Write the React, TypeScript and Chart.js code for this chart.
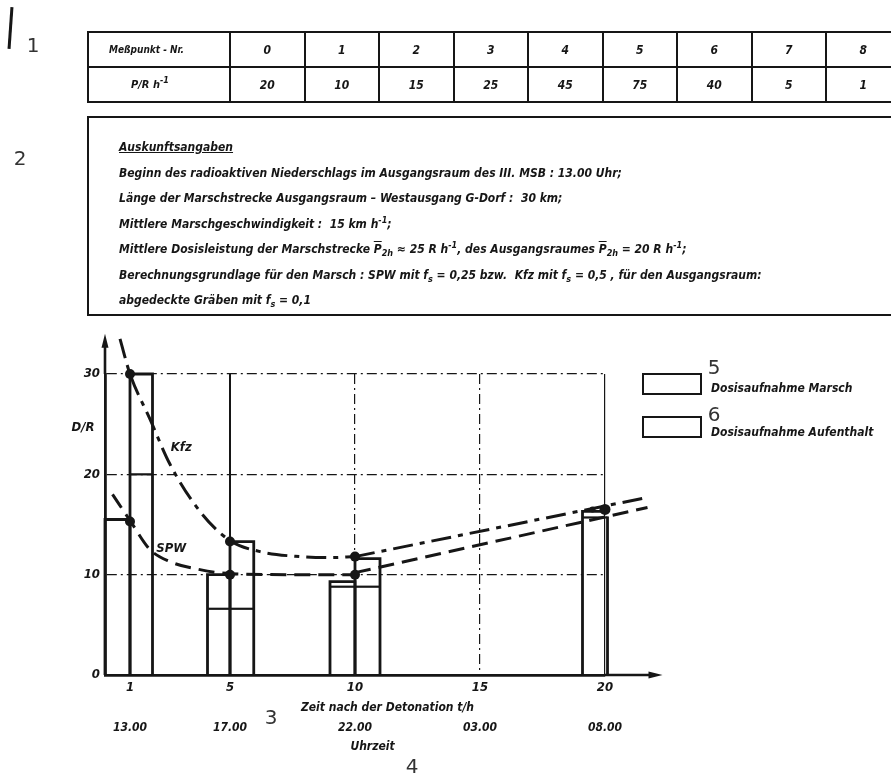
import React, { useEffect, useRef } from "react";
import { Chart, registerables } from "chart.js";

Chart.register(...registerables);

// ---------------- data ----------------
const pointNumbers = ["0", "1", "2", "3", "4", "5", "6", "7", "8"];
const doseRateValues = ["20", "10", "15", "25", "45", "75", "40", "5", "1"];

const xTickValues = [1, 5, 10, 15, 20];
const clockTimes = ["13.00", "17.00", "22.00", "03.00", "08.00"];
const yTickValues = [0, 10, 20, 30];

// Kfz (dash-dot) curve and its return leg
const kfzHours = [0.6, 1, 1.8, 2.6, 3.8, 5, 6.2, 7.8, 9, 10];
const kfzDose = [33.5, 30, 25.5, 21, 16.3, 13.4, 12.3, 11.8, 11.7, 11.8];
const kfzReturnHours = [10, 21.7];
const kfzReturnDose = [11.8, 17.7];

// SPW (dashed) curve and its return leg
const spwHours = [0.3, 1, 1.8, 2.6, 3.8, 5, 7.5, 10];
const spwDose = [18, 15.4, 12.5, 11.3, 10.5, 10.1, 10, 10];
const spwReturnHours = [10, 21.7];
const spwReturnDose = [10.2, 16.7];

// marked points
const markHours = [1, 1, 5, 5, 10, 10, 20, 19.5];
const markDose = [30, 15.3, 13.3, 10, 11.8, 10, 16.5, 16.5];
const markSize = [5, 5, 5, 5, 5, 5, 5.5, 3];

// dose bars (outlined rectangles)
const barFrom = [0, 1, 4.1, 5, 9, 10, 19.1, 20.1];
const barTo = [1, 1.9, 5, 5.95, 10, 11, 20.1, 20.95];
const barTotal = [15.5, 30, 10, 13.3, 9.3, 11.6, 16.3, 15.8];
const barPart: (number | null)[] = [null, 20, 6.6, 6.6, 8.8, 8.8, 15.7, null];

// ---------------- styling ----------------
const INK = "#161616";
const FONT = "'Liberation Sans Narrow', 'DejaVu Sans Condensed', 'Liberation Sans', sans-serif";
const NUMFONT = "'DejaVu Sans', 'Liberation Sans', sans-serif";

const decorations = {
  id: "decorations",
  afterDraw(chart: any) {
    const { ctx, scales } = chart;
    const x = scales.x;
    const y = scales.y;
    ctx.save();
    ctx.strokeStyle = INK;
    ctx.fillStyle = INK;
    ctx.lineWidth = 2.6;
    const x0 = x.getPixelForValue(0);
    const y0 = y.getPixelForValue(0);
    const yTop = y.getPixelForValue(34);
    const xEnd = x.getPixelForValue(22.3);
    // y axis arrow
    ctx.beginPath();
    ctx.moveTo(x0, y.getPixelForValue(30));
    ctx.lineTo(x0, yTop + 10);
    ctx.stroke();
    ctx.beginPath();
    ctx.moveTo(x0, yTop);
    ctx.lineTo(x0 - 3.5, yTop + 14);
    ctx.lineTo(x0 + 3.5, yTop + 14);
    ctx.closePath();
    ctx.fill();
    // x axis arrow
    ctx.beginPath();
    ctx.moveTo(x.getPixelForValue(20), y0);
    ctx.lineTo(xEnd - 10, y0);
    ctx.stroke();
    ctx.beginPath();
    ctx.moveTo(xEnd, y0);
    ctx.lineTo(xEnd - 14, y0 - 3.5);
    ctx.lineTo(xEnd - 14, y0 + 3.5);
    ctx.closePath();
    ctx.fill();

    ctx.font = "italic bold 13px " + FONT;
    ctx.textBaseline = "middle";
    ctx.textAlign = "center";
    ctx.fillText("D/R", x0 - 22, y.getPixelForValue(24.7));
    ctx.fillText("Kfz", x.getPixelForValue(3.05), y.getPixelForValue(22.7));
    ctx.fillText("SPW", x.getPixelForValue(2.65), y.getPixelForValue(12.6));
    ctx.font = "italic bold 12px " + FONT;
    ctx.fillText("Zeit nach der Detonation t/h", x.getPixelForValue(11.3), y0 + 33);
    ctx.fillText("Uhrzeit", x.getPixelForValue(10.7), y0 + 72);
    ctx.restore();
  },
};

function ChartCanvas() {
  const canvasRef = useRef<HTMLCanvasElement | null>(null);

  useEffect(() => {
    const canvas = canvasRef.current;
    if (!canvas) return;
    const tickFont = { family: FONT, size: 13, weight: "bold" as const, style: "italic" as const };

    const datasets: any[] = [];
    barFrom.forEach((from, i) => {
      const to = barTo[i];
      const total = barTotal[i];
      datasets.push({
        label: "Dosisaufnahme " + i,
        data: [
          { x: from, y: 0 },
          { x: from, y: total },
          { x: to, y: total },
          { x: to, y: 0 },
        ],
        showLine: true,
        borderColor: INK,
        borderWidth: 2.8,
        pointRadius: 0,
        tension: 0,
        clip: false,
        order: 3,
      });
      const part = barPart[i];
      if (part !== null) {
        datasets.push({
          label: "Aufenthalt " + i,
          data: [
            { x: from, y: part },
            { x: to, y: part },
          ],
          showLine: true,
          borderColor: INK,
          borderWidth: 2.2,
          pointRadius: 0,
          clip: false,
          order: 3,
        });
      }
    });

    datasets.push({
      label: "Kfz",
      data: kfzHours.map((h, i) => ({ x: h, y: kfzDose[i] })),
      showLine: true,
      borderColor: INK,
      borderWidth: 3,
      borderDash: [20, 7, 5, 7],
      cubicInterpolationMode: "monotone",
      pointRadius: 0,
      clip: false,
      order: 2,
    });
    datasets.push({
      label: "Kfz Rückmarsch",
      data: kfzReturnHours.map((h, i) => ({ x: h, y: kfzReturnDose[i] })),
      showLine: true,
      borderColor: INK,
      borderWidth: 3,
      borderDash: [20, 7, 5, 7],
      pointRadius: 0,
      clip: false,
      order: 2,
    });
    datasets.push({
      label: "SPW",
      data: spwHours.map((h, i) => ({ x: h, y: spwDose[i] })),
      showLine: true,
      borderColor: INK,
      borderWidth: 3,
      borderDash: [16, 8],
      cubicInterpolationMode: "monotone",
      pointRadius: 0,
      clip: false,
      order: 2,
    });
    datasets.push({
      label: "SPW Rückmarsch",
      data: spwReturnHours.map((h, i) => ({ x: h, y: spwReturnDose[i] })),
      showLine: true,
      borderColor: INK,
      borderWidth: 3,
      borderDash: [16, 8],
      pointRadius: 0,
      clip: false,
      order: 2,
    });
    datasets.push({
      label: "Messpunkte",
      data: markHours.map((h, i) => ({ x: h, y: markDose[i] })),
      showLine: false,
      pointRadius: markSize,
      pointBackgroundColor: INK,
      pointBorderColor: INK,
      pointBorderWidth: 0,
      clip: false,
      order: 1,
    });

    const gridDash = (c: any) => {
      if (c && c.tick && (c.tick.value === 5 || c.tick.value === 20)) return [];
      return [10, 4, 2, 4];
    };

    const chart = new Chart(canvas, {
      type: "scatter",
      data: { datasets },
      plugins: [decorations],
      options: {
        animation: false,
        responsive: false,
        devicePixelRatio: 1,
        layout: { padding: { left: 0, right: 891 - 605, top: 374, bottom: 0 } },
        plugins: { legend: { display: false }, tooltip: { enabled: false } },
        scales: {
          x: {
            type: "linear",
            position: "bottom",
            weight: 0,
            min: 0,
            max: 20,
            afterBuildTicks: (s: any) => {
              s.ticks = xTickValues.map((v) => ({ value: v }));
            },
            afterFit: (s: any) => {
              s.height = 42;
            },
            ticks: { color: INK, font: tickFont, padding: 5, maxRotation: 0, autoSkip: false },
            grid: {
              color: INK,
              lineWidth: (c: any) => (c && c.tick && c.tick.value === 5 ? 2 : 1.2),
              drawTicks: false,
            },
            border: { display: true, color: INK, width: 2.8, dash: gridDash },
          },
          x2: {
            type: "linear",
            position: "bottom",
            weight: 1,
            min: 0,
            max: 20,
            afterBuildTicks: (s: any) => {
              s.ticks = xTickValues.map((v) => ({ value: v }));
            },
            afterFit: (s: any) => {
              s.height = 57;
            },
            ticks: {
              color: INK,
              font: { family: FONT, size: 12, weight: "bold", style: "italic" },
              padding: 4,
              maxRotation: 0,
              autoSkip: false,
              callback: (v: any) => {
                const k = xTickValues.indexOf(Number(v));
                return k >= 0 ? clockTimes[k] : "";
              },
            },
            grid: { display: false, drawTicks: false },
            border: { display: false },
          },
          y: {
            type: "linear",
            position: "left",
            min: 0,
            max: 30,
            afterBuildTicks: (s: any) => {
              s.ticks = yTickValues.map((v) => ({ value: v }));
            },
            afterFit: (s: any) => {
              s.width = 105;
            },
            ticks: { color: INK, font: tickFont, padding: 5 },
            grid: { color: INK, lineWidth: 1.2, drawTicks: false },
            border: { display: true, color: INK, width: 2.8, dash: [10, 4, 2, 4] },
          },
        },
      } as any,
    });
    return () => chart.destroy();
  }, []);

  return (
    <canvas
      ref={canvasRef}
      width={891}
      height={774}
      style={{ position: "absolute", left: 0, top: 0, width: 891, height: 774, display: "block" }}
    />
  );
}

const textStyle: React.CSSProperties = {
  fontFamily: FONT,
  fontWeight: 700,
  fontStyle: "italic",
  color: INK,
  whiteSpace: "nowrap",
};

const Sup = ({ children }: { children: React.ReactNode }) => (
  <span style={{ fontSize: 9, position: "relative", top: -5 }}>{children}</span>
);
const Sub = ({ children }: { children: React.ReactNode }) => (
  <span style={{ fontSize: 9, position: "relative", top: 3 }}>{children}</span>
);
const Bar = ({ children }: { children: React.ReactNode }) => (
  <span style={{ textDecoration: "overline" }}>{children}</span>
);

const infoLines: React.ReactNode[] = [
  <span style={{ textDecoration: "underline" }}>Auskunftsangaben</span>,
  <>Beginn des radioaktiven Niederschlags im Ausgangsraum des III. MSB : 13.00 Uhr;</>,
  <>Länge der Marschstrecke Ausgangsraum – Westausgang G-Dorf :&nbsp; 30 km;</>,
  <>
    Mittlere Marschgeschwindigkeit :&nbsp; 15 km h<Sup>-1</Sup>;
  </>,
  <>
    Mittlere Dosisleistung der Marschstrecke <Bar>P</Bar>
    <Sub>2h</Sub> ≈ 25 R h<Sup>-1</Sup>, des Ausgangsraumes <Bar>P</Bar>
    <Sub>2h</Sub> = 20 R h<Sup>-1</Sup>;
  </>,
  <>
    Berechnungsgrundlage für den Marsch : SPW mit f<Sub>s</Sub> = 0,25 bzw.&nbsp; Kfz mit f<Sub>s</Sub> = 0,5 , für den
    Ausgangsraum:
  </>,
  <>
    abgedeckte Gräben mit f<Sub>s</Sub> = 0,1
  </>,
];

function Marker({ n, x, y }: { n: string; x: number; y: number }) {
  return (
    <div
      style={{
        position: "absolute",
        left: x,
        top: y,
        transform: "translate(-50%, -50%)",
        fontFamily: NUMFONT,
        fontSize: 20,
        color: "#333",
        lineHeight: 1,
      }}
    >
      {n}
    </div>
  );
}

export default function App() {
  const cell: React.CSSProperties = {
    border: "2px solid " + INK,
    textAlign: "center",
    padding: 0,
    height: 33,
    fontSize: 12,
    ...textStyle,
  };
  return (
    <div
      style={{
        position: "absolute",
        left: 0,
        top: 0,
        width: 891,
        height: 774,
        overflow: "hidden",
        background: "#fff",
      }}
    >
      <ChartCanvas />
      <div
        style={{
          position: "absolute",
          left: 9,
          top: 7,
          width: 3,
          height: 42,
          background: INK,
          transform: "rotate(4deg)",
        }}
      />
      <Marker n="1" x={33} y={45} />
      <Marker n="2" x={20} y={158} />
      <Marker n="3" x={271} y={717} />
      <Marker n="4" x={412} y={766} />

      <table
        style={{
          position: "absolute",
          left: 87,
          top: 31,
          borderCollapse: "collapse",
          tableLayout: "fixed",
          width: 812.5,
        }}
      >
        <colgroup>
          <col style={{ width: 142 }} />
          {pointNumbers.map((p) => (
            <col key={p} style={{ width: 74.5 }} />
          ))}
        </colgroup>
        <tbody>
          <tr>
            <td style={{ ...cell, textAlign: "left", paddingLeft: 20, fontSize: 10 }}>Meßpunkt - Nr.</td>
            {pointNumbers.map((p) => (
              <td key={p} style={cell}>
                {p}
              </td>
            ))}
          </tr>
          <tr>
            <td style={{ ...cell, textAlign: "left", paddingLeft: 42, fontSize: 11 }}>
              P/R h<Sup>-1</Sup>
            </td>
            {doseRateValues.map((v, i) => (
              <td key={i} style={cell}>
                {v}
              </td>
            ))}
          </tr>
        </tbody>
      </table>

      <div
        style={{
          position: "absolute",
          left: 87,
          top: 116,
          width: 840,
          height: 200,
          border: "2px solid " + INK,
          boxSizing: "border-box",
          paddingTop: 17,
          paddingLeft: 30,
        }}
      >
        {infoLines.map((line, i) => (
          <div key={i} style={{ ...textStyle, fontSize: 12, lineHeight: "25.5px", height: 25.5 }}>
            {line}
          </div>
        ))}
      </div>

      {/* legend */}
      <div
        style={{
          position: "absolute",
          left: 642,
          top: 373,
          width: 60,
          height: 22,
          border: "2.5px solid " + INK,
          boxSizing: "border-box",
        }}
      />
      <Marker n="5" x={714} y={367} />
      <div style={{ ...textStyle, position: "absolute", left: 711, top: 380, fontSize: 12, lineHeight: "16px" }}>
        Dosisaufnahme Marsch
      </div>
      <div
        style={{
          position: "absolute",
          left: 642,
          top: 416,
          width: 60,
          height: 22,
          border: "2.5px solid " + INK,
          boxSizing: "border-box",
        }}
      />
      <Marker n="6" x={714} y={414} />
      <div style={{ ...textStyle, position: "absolute", left: 711, top: 424, fontSize: 12, lineHeight: "16px" }}>
        Dosisaufnahme Aufenthalt
      </div>
    </div>
  );
}
